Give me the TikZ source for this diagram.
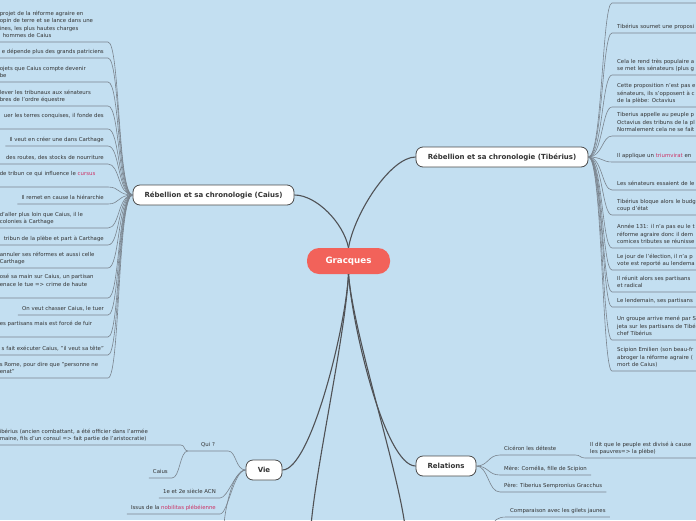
\documentclass[tikz,border=0pt]{standalone}
\usepackage{fontspec}
\setmainfont{DejaVu Sans}
\definecolor{mapbg}{RGB}{195,223,241}
\definecolor{rootred}{RGB}{242,98,90}
\definecolor{inkgray}{RGB}{51,51,51}
\definecolor{topicline}{RGB}{74,74,74}
\definecolor{branchline}{RGB}{80,82,86}
\definecolor{twigline}{RGB}{122,132,142}
\definecolor{term}{RGB}{204,51,102}

\begin{document}
\begin{tikzpicture}[x=1pt, y=-1pt,
  root/.style={fill=rootred, text=white, font=\fontsize{8.7}{10}\selectfont\bfseries, rounded corners=12pt, minimum width=83pt, minimum height=26pt},
  topic/.style={fill=white, draw=topicline, line width=0.8pt, rounded corners=7pt, text=inkgray, font=\fontsize{7}{8}\selectfont\bfseries, minimum height=20pt},
  item/.style={text=inkgray, font=\fontsize{5.4}{7.4}\selectfont, inner xsep=4pt, inner ysep=2pt, execute at end node={\strut}},
  lcut/.style={item, anchor=south east, text width=104pt, align=left},
  lfull/.style={item, anchor=south east, align=right},
  rcut/.style={item, anchor=south west, text width=110pt, align=left, inner xsep=5pt},
  rfull/.style={item, anchor=south west},
  branch/.style={draw=branchline, line width=1.1pt},
  twig/.style={draw=twigline, line width=0.6pt}]
  \fill[mapbg] (0,0) rectangle (696,520);
  \useasboundingbox (0,0) rectangle (696,520);
  \clip (0,0) rectangle (696,520);

  \node[root] (gracques) at (348.5,261) {Gracques};
  \node[topic, minimum width=161pt] (caius) at (213.5,195) {Rébellion et sa chronologie (Caius)};
  \node[topic, minimum width=172pt] (tiberius) at (502,157) {Rébellion et sa chronologie (Tibérius)};
  \node[topic, minimum width=36pt] (vie) at (264,470) {Vie};
  \node[topic, minimum width=60pt] (relations) at (446,466) {Relations};
  \coordinate (downl) at (311,526);
  \coordinate (downr) at (405,526);

  \draw[branch] (gracques.north) .. controls +(-5,-25) and +(22,0) .. (caius.east);
  \draw[branch] (gracques.north) .. controls +(6,-35) and +(-25,0) .. (tiberius.west);
  \draw[branch] (gracques.south) .. controls +(-3,55) and +(28,0) .. (vie.east);
  \draw[branch] (gracques.south) .. controls +(4,55) and +(-30,0) .. (relations.west);
  \draw[branch] (gracques.south) .. controls +(-3,60) and +(5,-60) .. (downl);
  \draw[branch] (gracques.south) .. controls +(5,60) and +(-8,-60) .. (downr);

  \node[lcut] (c1) at (108,42) {projet de la réforme agraire en\\opin de terre et se lance dans une\\ines, les plus hautes charges\\\hspace{3pt}hommes de Caius};
  \node[lcut, align=right] (c2) at (108,58) {e dépende plus des grands patriciens};
  \node[lcut] (c3) at (108,82) {ojets que Caius compte devenir\\be};
  \node[lcut] (c4) at (108,106) {lever les tribunaux aux sénateurs\\bres de l'ordre équestre};
  \node[lcut, align=right] (c5) at (108,129) {uer les terres conquises, il fonde des\\\mbox{}};
  \node[lfull] (c6) at (108,146) {Il veut en créer une dans Carthage};
  \node[lcut, align=right] (c7) at (108,164) {des routes, des stocks de nourriture};
  \node[lcut] (c8) at (108,187) {de tribun ce qui influence le \textcolor{term}{cursus}\\\mbox{}};
  \node[lfull] (c9) at (108,204) {Il remet en cause la hiérarchie};
  \node[lcut] (c10) at (108,228) {d'aller plus loin que Caius, il le\\colonies à Carthage};
  \node[lcut, align=right] (c11) at (108,245) {tribun de la plèbe et part à Carthage};
  \node[lcut] (c12) at (108,268) {annuler ses réformes et aussi celle\\Carthage};
  \node[lcut] (c13) at (108,298) {osé sa main sur Caius, un partisan\\enace le tue => crime de haute\\\mbox{}};
  \node[lfull] (c14) at (108,315) {On veut chasser Caius, le tuer};
  \node[lcut] (c15) at (108,337) {es partisans mais est forcé de fuir\\\mbox{}};
  \node[lcut, align=right] (c16) at (108,355) {s fait exécuter Caius, "il veut sa tête"};
  \node[lcut] (c17) at (108,378) {s Rome, pour dire que "personne ne\\enat"};

  \draw[twig] (caius.west) .. controls +(-15,0) and +(12,0) .. (c1.south east) -- (c1.south west);
  \draw[twig] (caius.west) .. controls +(-15,0) and +(12,0) .. (c2.south east) -- (c2.south west);
  \draw[twig] (caius.west) .. controls +(-15,0) and +(12,0) .. (c3.south east) -- (c3.south west);
  \draw[twig] (caius.west) .. controls +(-15,0) and +(12,0) .. (c4.south east) -- (c4.south west);
  \draw[twig] (caius.west) .. controls +(-15,0) and +(12,0) .. (c5.south east) -- (c5.south west);
  \draw[twig] (caius.west) .. controls +(-15,0) and +(12,0) .. (c6.south east) -- (c6.south west);
  \draw[twig] (caius.west) .. controls +(-15,0) and +(12,0) .. (c7.south east) -- (c7.south west);
  \draw[twig] (caius.west) .. controls +(-15,0) and +(12,0) .. (c8.south east) -- (c8.south west);
  \draw[twig] (caius.west) .. controls +(-15,0) and +(12,0) .. (c9.south east) -- (c9.south west);
  \draw[twig] (caius.west) .. controls +(-15,0) and +(12,0) .. (c10.south east) -- (c10.south west);
  \draw[twig] (caius.west) .. controls +(-15,0) and +(12,0) .. (c11.south east) -- (c11.south west);
  \draw[twig] (caius.west) .. controls +(-15,0) and +(12,0) .. (c12.south east) -- (c12.south west);
  \draw[twig] (caius.west) .. controls +(-15,0) and +(12,0) .. (c13.south east) -- (c13.south west);
  \draw[twig] (caius.west) .. controls +(-15,0) and +(12,0) .. (c14.south east) -- (c14.south west);
  \draw[twig] (caius.west) .. controls +(-15,0) and +(12,0) .. (c15.south east) -- (c15.south west);
  \draw[twig] (caius.west) .. controls +(-15,0) and +(12,0) .. (c16.south east) -- (c16.south west);
  \draw[twig] (caius.west) .. controls +(-15,0) and +(12,0) .. (c17.south east) -- (c17.south west);

  \coordinate (t0) at (612,3);
  \coordinate (t0end) at (700,3);
  \node[rcut] (t1) at (612,33) {Tibérius soumet une proposi};
  \node[rcut] (t2) at (612,75) {Cela le rend très populaire a\\se met les sénateurs (plus g};
  \node[rcut] (t3) at (612,107) {Cette proposition n'est pas e\\sénateurs, ils s'opposent à c\\de la plèbe: Octavius};
  \node[rcut] (t4) at (612,136) {Tiberius appelle au peuple p\\Octavius des tribuns de la pl\\Normalement cela ne se fait};
  \node[rcut] (t5) at (612,162) {Il applique un \textcolor{term}{triumvirat} en};
  \node[rcut] (t6) at (612,190) {Les sénateurs essaient de le};
  \node[rcut] (t7) at (612,215) {Tibérius bloque alors le budg\\coup d'état};
  \node[rcut] (t8) at (612,248) {Année 131: il n'a pas eu le t\\réforme agraire donc il dem\\comices tributes se réunisse};
  \node[rcut] (t9) at (612,270) {Le jour de l'élection, il n'a p\\vote est reporté au lendema};
  \node[rcut] (t10) at (612,292) {Il réunit alors ses partisans\\et radical};
  \node[rcut] (t11) at (612,307) {Le lendemain, ses partisans};
  \node[rcut] (t12) at (612,340) {Un groupe arrive mené par S\\jeta sur les partisans de Tibé\\chef Tibérius};
  \node[rcut] (t13) at (612,371) {Scipion Emilien (son beau-fr\\abroger la réforme agraire (\\mort de Caius)};

  \draw[twig] (tiberius.east) .. controls +(14,0) and +(-10,0) .. (t0) -- (t0end);
  \draw[twig] (tiberius.east) .. controls +(14,0) and +(-10,0) .. (t1.south west) -- (t1.south east);
  \draw[twig] (tiberius.east) .. controls +(14,0) and +(-10,0) .. (t2.south west) -- (t2.south east);
  \draw[twig] (tiberius.east) .. controls +(14,0) and +(-10,0) .. (t3.south west) -- (t3.south east);
  \draw[twig] (tiberius.east) .. controls +(14,0) and +(-10,0) .. (t4.south west) -- (t4.south east);
  \draw[twig] (tiberius.east) .. controls +(14,0) and +(-10,0) .. (t5.south west) -- (t5.south east);
  \draw[twig] (tiberius.east) .. controls +(14,0) and +(-10,0) .. (t6.south west) -- (t6.south east);
  \draw[twig] (tiberius.east) .. controls +(14,0) and +(-10,0) .. (t7.south west) -- (t7.south east);
  \draw[twig] (tiberius.east) .. controls +(14,0) and +(-10,0) .. (t8.south west) -- (t8.south east);
  \draw[twig] (tiberius.east) .. controls +(14,0) and +(-10,0) .. (t9.south west) -- (t9.south east);
  \draw[twig] (tiberius.east) .. controls +(14,0) and +(-10,0) .. (t10.south west) -- (t10.south east);
  \draw[twig] (tiberius.east) .. controls +(14,0) and +(-10,0) .. (t11.south west) -- (t11.south east);
  \draw[twig] (tiberius.east) .. controls +(14,0) and +(-10,0) .. (t12.south west) -- (t12.south east);
  \draw[twig] (tiberius.east) .. controls +(14,0) and +(-10,0) .. (t13.south west) -- (t13.south east);

  \node[item, anchor=south, minimum width=40pt] (qui) at (208,451) {Qui ?};
  \node[lcut, text width=177pt] (qtib) at (181,445) {ibérius (ancien combattant, a été officier dans l'armée\\maine, fils d'un consul => fait partie de l'aristocratie)};
  \node[lfull] (qcaius) at (172,478) {Caius};
  \node[lfull] (v2) at (220,498) {1e et 2e siècle ACN};
  \node[lfull] (v3) at (220,514) {Issus de la \textcolor{term}{nobilitas plébéienne}};
  \coordinate (vout) at (224,526);

  \draw[twig] (vie.west) .. controls +(-10,0) and +(8,0) .. (qui.south east) -- (qui.south west);
  \draw[twig] (qui.south west) .. controls +(-4,0) and +(4,0) .. (qtib.south east) -- (qtib.south west);
  \draw[twig] (qui.south west) .. controls +(-8,0) and +(8,0) .. (qcaius.south east) -- (qcaius.south west);
  \draw[twig] (vie.west) .. controls +(-10,0) and +(8,0) .. (v2.south east) -- (v2.south west);
  \draw[twig] (vie.west) .. controls +(-12,0) and +(8,0) .. (v3.south east) -- (v3.south west);
  \draw[twig] (vie.west) .. controls +(-14,0) and +(0,-10) .. (vout);

  \node[rfull, text width=67pt, align=left] (r1) at (500,455) {Cicéron les déteste};
  \node[rcut] (r1a) at (585,458) {Il dit que le peuple est divisé à cause\\les pauvres=> la plèbe)};
  \node[rfull] (r2) at (500,475) {Mère: Cornélia, fille de Scipion};
  \node[rfull] (r3) at (500,492) {Père: Tiberius Sempronius Gracchus};
  \node[rfull] (b1) at (506,517) {Comparaison avec les gilets jaunes};
  \coordinate (bin) at (492,528);

  \draw[twig] (relations.east) .. controls +(12,0) and +(-12,0) .. (r1.south west) -- (r1.south east);
  \draw[twig] (r1.south east) .. controls +(5,0) and +(-5,0) .. (r1a.south west) -- (r1a.south east);
  \draw[twig] (relations.east) .. controls +(12,0) and +(-12,0) .. (r2.south west) -- (r2.south east);
  \draw[twig] (relations.east) .. controls +(12,0) and +(-12,0) .. (r3.south west) -- (r3.south east);
  \draw[twig] (bin) .. controls +(1,-8) and +(-8,0) .. (b1.south west) -- (b1.south east);
\end{tikzpicture}
\end{document}
